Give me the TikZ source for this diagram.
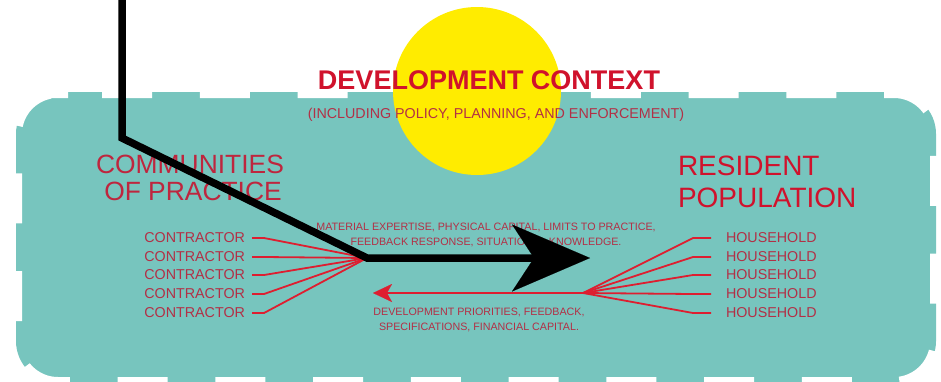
\documentclass[tikz,border=0pt]{standalone}
\usepackage{fontspec}
\setmainfont{Liberation Sans}
\usetikzlibrary{arrows.meta}
\definecolor{tealbg}{RGB}{119,197,190}
\definecolor{sunyellow}{RGB}{255,236,0}
\definecolor{bigred}{RGB}{208,18,44}
\definecolor{midred}{RGB}{190,38,62}
\definecolor{smallred}{RGB}{178,48,70}
\definecolor{linered}{RGB}{222,30,48}
\tikzset{
  txt/.style={inner sep=0pt, outer sep=0pt},
  titletxt/.style={txt, text=bigred, font=\fontsize{27}{32}\selectfont\bfseries},
  subtxt/.style={txt, text=smallred, font=\fontsize{14.3}{17}\selectfont},
  headtxt/.style={txt, text=midred, font=\fontsize{26.4}{30}\selectfont},
  headtxtR/.style={txt, text=bigred, font=\fontsize{28}{32}\selectfont},
  itemtxt/.style={txt, text=smallred, font=\fontsize{14.3}{17}\selectfont},
  flowtxt/.style={txt, text=smallred, align=center, font=\fontsize{10.7}{15}\selectfont},
  redline/.style={draw=linered, line width=1.8pt},
  blackarrow/.style={draw=black, line width=7.5pt,
    -{Stealth[length=78pt,width=67pt,inset=22pt,line width=0.1pt]}},
  redarrow/.style={redline, -{Stealth[length=19pt,width=18pt,inset=5pt,line width=0.1pt]}},
}
\begin{document}
\begin{tikzpicture}[x=1pt,y=-1pt]
\useasboundingbox (0,0) rectangle (941,381);
% background context box
\path[fill=tealbg, draw=white, line width=12pt, dash pattern=on 50pt off 47.75pt, rounded corners=42pt]
  (60,92) -- (936,92) -- (936,383) -- (16,383) -- (16,92) -- cycle;
% sun
\node[circle, fill=sunyellow, minimum size=168pt, inner sep=0pt] (sun) at (477,91) {};
% titles
\node[titletxt, anchor=base] (devctx) at (489,89) {DEVELOPMENT CONTEXT};
\node[subtxt, anchor=base] (incl) at (496,118) {(INCLUDING POLICY, PLANNING, AND ENFORCEMENT)};
\node[headtxt, anchor=base] (comm1) at (190,173) {COMMUNITIES};
\node[headtxt, anchor=base] (comm2) at (193,200) {OF PRACTICE};
\node[headtxtR, anchor=base west] (res1) at (678,175) {RESIDENT};
\node[headtxtR, anchor=base west] (res2) at (678,207) {POPULATION};
% contractors
\node[itemtxt, anchor=east] (c1) at (245,238) {CONTRACTOR};
\node[itemtxt, anchor=east] (c2) at (245,257) {CONTRACTOR};
\node[itemtxt, anchor=east] (c3) at (245,275) {CONTRACTOR};
\node[itemtxt, anchor=east] (c4) at (245,294) {CONTRACTOR};
\node[itemtxt, anchor=east] (c5) at (245,313) {CONTRACTOR};
% households
\node[itemtxt, anchor=west] (h1) at (726,238) {HOUSEHOLD};
\node[itemtxt, anchor=west] (h2) at (726,257) {HOUSEHOLD};
\node[itemtxt, anchor=west] (h3) at (726,275) {HOUSEHOLD};
\node[itemtxt, anchor=west] (h4) at (726,294) {HOUSEHOLD};
\node[itemtxt, anchor=west] (h5) at (726,313) {HOUSEHOLD};
% flow labels
\node[flowtxt] (flowup) at (486,234.5) {MATERIAL EXPERTISE, PHYSICAL CAPITAL, LIMITS TO PRACTICE,\\FEEDBACK RESPONSE, SITUATIONAL KNOWLEDGE.};
\node[flowtxt] (flowdn) at (479,320) {DEVELOPMENT PRIORITIES, FEEDBACK,\\SPECIFICATIONS, FINANCIAL CAPITAL.};
% junctions
\coordinate (cj) at (367,258);
\coordinate (hj) at (583,293);
\coordinate (redtip) at (373,293);
\coordinate (btop) at (122,-6);
\coordinate (bbend) at (122,138);
\coordinate (btip) at (590,258);
% contractor fan
\foreach \n in {1,...,5}{
  \draw[redline] ([xshift=7pt]c\n.east) -- ([xshift=19pt]c\n.east) -- (cj);
}
% household fan
\foreach \n in {1,...,5}{
  \draw[redline] (hj) -- ([xshift=-33pt]h\n.west) -- ([xshift=-15pt]h\n.west);
}
% red return arrow
\draw[redarrow] (hj) -- (redtip);
% black main arrow
\draw[blackarrow] (btop) -- (bbend) -- (cj) -- (btip);
\end{tikzpicture}
\end{document}
